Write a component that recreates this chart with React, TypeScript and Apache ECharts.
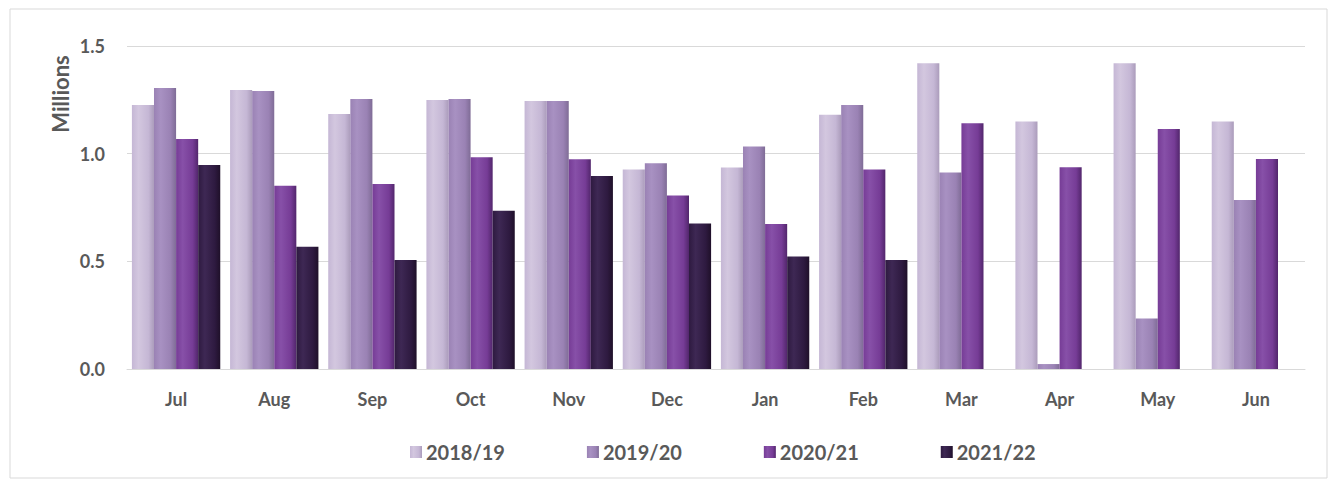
import React, { useEffect, useRef } from "react";
import * as echarts from "echarts";

const months = ["Jul", "Aug", "Sep", "Oct", "Nov", "Dec", "Jan", "Feb", "Mar", "Apr", "May", "Jun"];
const seriesNames = ["2018/19", "2019/20", "2020/21", "2021/22"];
const fy1819 = [1.226, 1.296, 1.184, 1.249, 1.245, 0.927, 0.936, 1.181, 1.42, 1.149, 1.42, 1.149];
const fy1920 = [1.305, 1.291, 1.254, 1.254, 1.245, 0.955, 1.033, 1.226, 0.912, 0.023, 0.234, 0.785];
const fy2021 = [1.068, 0.851, 0.859, 0.983, 0.974, 0.806, 0.673, 0.927, 1.141, 0.937, 1.115, 0.975];
const fy2122 = [0.947, 0.568, 0.506, 0.735, 0.896, 0.676, 0.522, 0.506, null, null, null, null];
const yTicks = [0, 0.5, 1.0, 1.5];

const palettes = [
  ["#d3c7df", "#c5b7d5", "#ab9cbb"],
  ["#a891c2", "#9a82b4", "#7f6c96"],
  ["#8750a8", "#763c96", "#52266c"],
  ["#3e2854", "#2e1a40", "#1f1029"],
];

function grad(p: string[]) {
  return new echarts.graphic.LinearGradient(0, 0, 1, 0, [
    { offset: 0, color: p[1] },
    { offset: 0.3, color: p[0] },
    { offset: 0.75, color: p[1] },
    { offset: 1, color: p[2] },
  ]);
}

export default function App() {
  const ref = useRef<HTMLDivElement>(null);
  useEffect(() => {
    if (!ref.current) return;
    const chart = echarts.init(ref.current, null, { renderer: "svg" });
    const data = [fy1819, fy1920, fy2021, fy2122];
    const font = "Lato, 'Open Sans', sans-serif";
    const txt = "#595959";
    chart.setOption({
      animation: false,
      backgroundColor: "#ffffff",
      textStyle: { fontFamily: font },
      grid: { left: 127, right: 27, top: 46, bottom: 118 },
      legend: {
        top: 437,
        left: 405,
        itemWidth: 12,
        itemHeight: 12,
        itemGap: 82,
        icon: "rect",
        textStyle: { color: txt, fontSize: 20, fontWeight: "bold", fontFamily: font, padding: [0, 0, 0, -1] },
        data: seriesNames,
      },
      xAxis: {
        type: "category",
        data: months,
        axisLine: { lineStyle: { color: "#d9d9d9" } },
        axisTick: { show: false },
        axisLabel: { color: txt, fontSize: 18, fontWeight: "bold", margin: 21, fontFamily: font },
      },
      yAxis: {
        type: "value",
        min: yTicks[0],
        max: yTicks[yTicks.length - 1],
        interval: 0.5,
        axisLine: { show: false },
        axisTick: { show: false },
        splitLine: { lineStyle: { color: "#d9d9d9" } },
        axisLabel: {
          color: txt,
          fontSize: 18,
          fontWeight: "bold",
          margin: 22,
          fontFamily: font,
          formatter: (v: number) => v.toFixed(1),
        },
      },
      graphic: [
        {
          type: "rect",
          shape: { x: 10, y: 9, width: 1317, height: 469 },
          style: { fill: "none", stroke: "#d9d9d9", lineWidth: 1 },
          silent: true,
        },
        {
          type: "text",
          x: 60,
          y: 94,
          rotation: Math.PI / 2,
          style: {
            text: "Millions",
            fill: txt,
            fontSize: 22,
            fontWeight: "bold",
            fontFamily: font,
            align: "center",
            verticalAlign: "middle",
          },
        },
      ],
      series: seriesNames.map((name, i) => ({
        name,
        type: "bar",
        data: data[i],
        barGap: "0%",
        barCategoryGap: "10%",
        itemStyle: { color: grad(palettes[i]) },
      })),
    });
    return () => chart.dispose();
  }, []);
  return (
    <div
      ref={ref}
      style={{ position: "absolute", left: 0, top: 0, width: 1332, height: 487 }}
    />
  );
}
